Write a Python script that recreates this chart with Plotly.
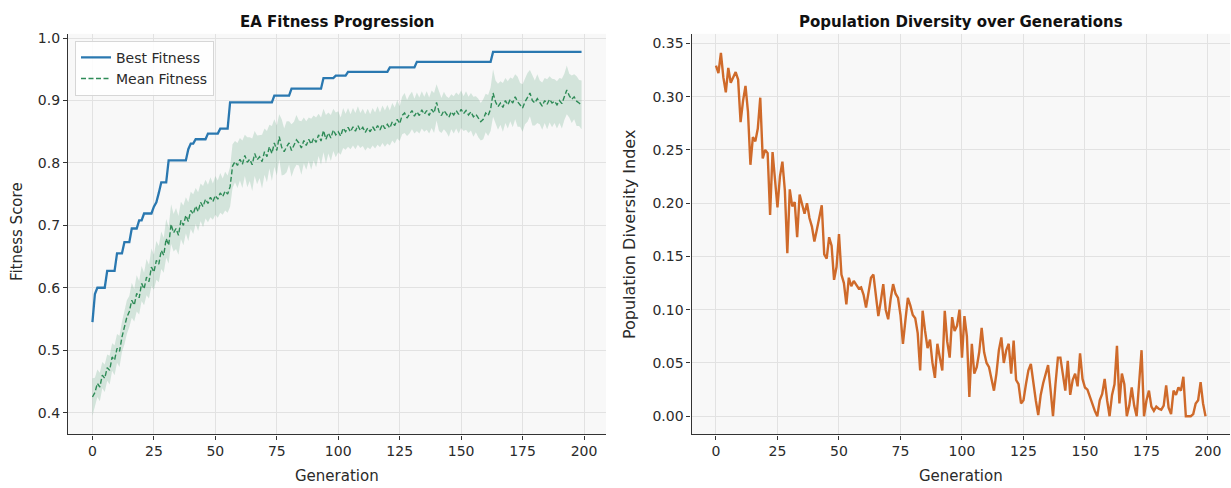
import plotly.graph_objects as go

W, H = 1231, 488

generations = list(range(200))

best_fitness = [
    0.545, 0.590, 0.600, 0.600, 0.600, 0.600, 0.627, 0.627, 0.627, 0.627,
    0.655, 0.655, 0.655, 0.673, 0.673, 0.673, 0.695, 0.695, 0.695, 0.708,
    0.708, 0.719, 0.719, 0.719, 0.719, 0.730, 0.737, 0.752, 0.769, 0.769,
    0.769, 0.804, 0.804, 0.804, 0.804, 0.804, 0.804, 0.804, 0.804, 0.822,
    0.831, 0.831, 0.838, 0.838, 0.838, 0.838, 0.838, 0.847, 0.847, 0.847,
    0.847, 0.847, 0.855, 0.855, 0.855, 0.855, 0.897, 0.897, 0.897, 0.897,
    0.897, 0.897, 0.897, 0.897, 0.897, 0.897, 0.897, 0.897, 0.897, 0.897,
    0.897, 0.897, 0.897, 0.897, 0.908, 0.908, 0.908, 0.908, 0.908, 0.908,
    0.908, 0.919, 0.919, 0.919, 0.919, 0.919, 0.919, 0.919, 0.919, 0.919,
    0.919, 0.919, 0.919, 0.919, 0.936, 0.936, 0.936, 0.936, 0.936, 0.940,
    0.940, 0.940, 0.940, 0.940, 0.946, 0.946, 0.946, 0.946, 0.946, 0.946,
    0.946, 0.946, 0.946, 0.946, 0.946, 0.946, 0.946, 0.946, 0.946, 0.946,
    0.946, 0.953, 0.953, 0.953, 0.953, 0.953, 0.953, 0.953, 0.953, 0.953,
    0.953, 0.953, 0.962, 0.962, 0.962, 0.962, 0.962, 0.962, 0.962, 0.962,
    0.962, 0.962, 0.962, 0.962, 0.962, 0.962, 0.962, 0.962, 0.962, 0.962,
    0.962, 0.962, 0.962, 0.962, 0.962, 0.962, 0.962, 0.962, 0.962, 0.962,
    0.962, 0.962, 0.962, 0.978, 0.978, 0.978, 0.978, 0.978, 0.978, 0.978,
    0.978, 0.978, 0.978, 0.978, 0.978, 0.978, 0.978, 0.978, 0.978, 0.978,
    0.978, 0.978, 0.978, 0.978, 0.978, 0.978, 0.978, 0.978, 0.978, 0.978,
    0.978, 0.978, 0.978, 0.978, 0.978, 0.978, 0.978, 0.978, 0.978, 0.978,
]

mean_fitness = [
    0.425, 0.432, 0.447, 0.441, 0.460, 0.455, 0.472, 0.468, 0.489, 0.484,
    0.503, 0.498, 0.521, 0.535, 0.553, 0.562, 0.580, 0.572, 0.591, 0.584,
    0.607, 0.598, 0.617, 0.610, 0.633, 0.625, 0.644, 0.638, 0.660, 0.652,
    0.679, 0.668, 0.702, 0.688, 0.695, 0.684, 0.708, 0.700, 0.716, 0.706,
    0.724, 0.718, 0.731, 0.722, 0.737, 0.730, 0.742, 0.735, 0.745, 0.738,
    0.748, 0.742, 0.752, 0.746, 0.755, 0.750, 0.762, 0.795, 0.802, 0.796,
    0.806, 0.798, 0.812, 0.801, 0.806, 0.797, 0.815, 0.805, 0.810, 0.802,
    0.818, 0.810, 0.826, 0.815, 0.832, 0.820, 0.842, 0.825, 0.818, 0.826,
    0.832, 0.820, 0.828, 0.837, 0.832, 0.824, 0.836, 0.828, 0.838, 0.830,
    0.840, 0.833, 0.845, 0.835, 0.852, 0.838, 0.848, 0.840, 0.853, 0.845,
    0.850, 0.843, 0.856, 0.850, 0.857, 0.850, 0.858, 0.851, 0.860, 0.852,
    0.857, 0.849, 0.856, 0.850, 0.858, 0.852, 0.860, 0.853, 0.862, 0.855,
    0.862, 0.856, 0.866, 0.860, 0.870, 0.863, 0.876, 0.880, 0.872, 0.878,
    0.884, 0.875, 0.882, 0.876, 0.885, 0.878, 0.884, 0.876, 0.886, 0.880,
    0.897, 0.882, 0.876, 0.884, 0.878, 0.873, 0.882, 0.877, 0.884, 0.878,
    0.886, 0.879, 0.884, 0.877, 0.882, 0.874, 0.878, 0.872, 0.866, 0.870,
    0.880, 0.876, 0.886, 0.912, 0.898, 0.890, 0.896, 0.889, 0.900, 0.893,
    0.902, 0.896, 0.906, 0.898, 0.893, 0.888, 0.898, 0.905, 0.912, 0.900,
    0.896, 0.903, 0.897, 0.891, 0.900, 0.894, 0.902, 0.896, 0.899, 0.893,
    0.900, 0.895, 0.906, 0.917, 0.908, 0.902, 0.906, 0.899, 0.896, 0.893,
]

fitness_std = [
    0.030, 0.024, 0.022, 0.023, 0.021, 0.022, 0.021, 0.023, 0.022, 0.024,
    0.023, 0.025, 0.024, 0.026, 0.027, 0.025, 0.028, 0.026, 0.029, 0.027,
    0.028, 0.026, 0.029, 0.027, 0.030, 0.028, 0.031, 0.029, 0.030, 0.028,
    0.031, 0.029, 0.032, 0.030, 0.033, 0.031, 0.030, 0.032, 0.029, 0.031,
    0.030, 0.032, 0.029, 0.031, 0.030, 0.033, 0.031, 0.030, 0.032, 0.029,
    0.031, 0.030, 0.032, 0.029, 0.031, 0.030, 0.032, 0.035, 0.033, 0.036,
    0.034, 0.038, 0.033, 0.040, 0.035, 0.042, 0.036, 0.039, 0.034, 0.043,
    0.037, 0.041, 0.035, 0.044, 0.038, 0.040, 0.036, 0.045, 0.037, 0.041,
    0.035, 0.042, 0.038, 0.040, 0.036, 0.043, 0.037, 0.039, 0.035, 0.041,
    0.036, 0.040, 0.034, 0.038, 0.035, 0.039, 0.033, 0.037, 0.034, 0.036,
    0.033, 0.030, 0.032, 0.029, 0.031, 0.028, 0.030, 0.029, 0.031, 0.028,
    0.030, 0.029, 0.031, 0.028, 0.030, 0.029, 0.031, 0.028, 0.030, 0.029,
    0.031, 0.028, 0.030, 0.029, 0.031, 0.028, 0.030, 0.032, 0.029, 0.031,
    0.030, 0.028, 0.031, 0.029, 0.030, 0.028, 0.031, 0.029, 0.030, 0.032,
    0.029, 0.031, 0.028, 0.030, 0.029, 0.031, 0.028, 0.030, 0.029, 0.031,
    0.030, 0.028, 0.031, 0.029, 0.030, 0.032, 0.029, 0.031, 0.030, 0.032,
    0.031, 0.033, 0.035, 0.038, 0.034, 0.037, 0.035, 0.039, 0.036, 0.038,
    0.035, 0.039, 0.036, 0.040, 0.035, 0.038, 0.036, 0.039, 0.037, 0.040,
    0.036, 0.039, 0.035, 0.038, 0.036, 0.040, 0.037, 0.039, 0.035, 0.038,
    0.036, 0.040, 0.037, 0.039, 0.035, 0.038, 0.036, 0.040, 0.037, 0.039,
]

diversity = [
    0.329, 0.322, 0.341, 0.318, 0.304, 0.327, 0.313, 0.318, 0.323, 0.316,
    0.276, 0.296, 0.310, 0.286, 0.236, 0.262, 0.258, 0.270, 0.299, 0.242,
    0.250, 0.247, 0.189, 0.248, 0.224, 0.196, 0.225, 0.239, 0.212, 0.153,
    0.213, 0.197, 0.201, 0.168, 0.208, 0.200, 0.190, 0.200, 0.186, 0.178,
    0.164, 0.175, 0.186, 0.198, 0.152, 0.148, 0.168, 0.160, 0.128, 0.140,
    0.171, 0.133, 0.125, 0.105, 0.130, 0.122, 0.127, 0.124, 0.120, 0.121,
    0.114, 0.102, 0.118, 0.130, 0.133, 0.112, 0.094, 0.108, 0.124, 0.100,
    0.091, 0.110, 0.124, 0.115, 0.111, 0.095, 0.068, 0.090, 0.111, 0.104,
    0.095, 0.092, 0.078, 0.043, 0.099, 0.080, 0.064, 0.072, 0.050, 0.036,
    0.068, 0.055, 0.043, 0.099, 0.070, 0.055, 0.093, 0.080, 0.085, 0.100,
    0.055, 0.094, 0.075, 0.018, 0.068, 0.040, 0.046, 0.060, 0.083, 0.060,
    0.050, 0.046, 0.035, 0.024, 0.040, 0.062, 0.074, 0.050, 0.062, 0.068,
    0.040, 0.071, 0.034, 0.030, 0.012, 0.015, 0.030, 0.043, 0.049, 0.030,
    0.015, 0.001, 0.020, 0.031, 0.040, 0.048, 0.025, 0.000, 0.030, 0.055,
    0.055, 0.040, 0.024, 0.052, 0.020, 0.034, 0.040, 0.028, 0.059, 0.035,
    0.027, 0.025, 0.018, 0.010, 0.005, 0.000, 0.015, 0.021, 0.035, 0.015,
    0.000, 0.020, 0.030, 0.066, 0.012, 0.040, 0.030, 0.000, 0.010, 0.027,
    0.010, 0.000, 0.030, 0.062, 0.000, 0.015, 0.024, 0.009, 0.005, 0.009,
    0.007, 0.006, 0.010, 0.029, 0.008, 0.002, 0.024, 0.020, 0.027, 0.024,
    0.037, 0.000, 0.000, 0.000, 0.002, 0.012, 0.015, 0.032, 0.012, 0.000,
]

x_ticks = [0, 25, 50, 75, 100, 125, 150, 175, 200]
fit_ticks = [0.4, 0.5, 0.6, 0.7, 0.8, 0.9, 1.0]
fit_tick_labels = ["0.4", "0.5", "0.6", "0.7", "0.8", "0.9", "1.0"]
div_ticks = [0.0, 0.05, 0.10, 0.15, 0.20, 0.25, 0.30, 0.35]
div_tick_labels = ["0.00", "0.05", "0.10", "0.15", "0.20", "0.25", "0.30", "0.35"]

titles = ["EA Fitness Progression", "Population Diversity over Generations"]
x_label = "Generation"
y_labels = ["Fitness Score", "Population Diversity Index"]

BLUE = "#2a78b0"
GREEN = "#2e8b57"
ORANGE = "#cf6a2a"
FONT = "DejaVu Sans"
TXT = "#2a2a2a"

upper = [m + s for m, s in zip(mean_fitness, fitness_std)]
lower = [m - s for m, s in zip(mean_fitness, fitness_std)]

fig = go.Figure()

fig.add_trace(go.Scatter(x=generations, y=best_fitness, mode="lines", name="Best Fitness",
                         line=dict(color=BLUE, width=2.3), xaxis="x", yaxis="y"))
fig.add_trace(go.Scatter(x=generations, y=lower, mode="lines", line=dict(width=0),
                         showlegend=False, hoverinfo="skip", xaxis="x", yaxis="y"))
fig.add_trace(go.Scatter(x=generations, y=upper, mode="lines", line=dict(width=0),
                         fill="tonexty", fillcolor="rgba(46,139,87,0.18)",
                         showlegend=False, hoverinfo="skip", xaxis="x", yaxis="y"))
fig.add_trace(go.Scatter(x=generations, y=mean_fitness, mode="lines", name="Mean Fitness",
                         line=dict(color=GREEN, width=1.4, dash="5px,2.5px"), xaxis="x", yaxis="y"))
fig.add_trace(go.Scatter(x=generations, y=diversity, mode="lines", name="Diversity",
                         line=dict(color=ORANGE, width=2.4), showlegend=False,
                         xaxis="x2", yaxis="y2"))

# pixel geometry -> paper coords
def px(x):
    return x / W

def py(y):
    return (H - y) / H

plot_top, plot_bot = 30, 434
left_dom = [px(68), px(606)]
right_dom = [px(691.5), px(1230)]
y_dom = [py(plot_bot), py(plot_top)]

axis_common = dict(
    showline=True, linecolor="#333333", linewidth=1.2, mirror=False,
    ticks="outside", ticklen=4, tickwidth=1, tickcolor="#333333",
    showgrid=True, gridcolor="#e2e2e2", gridwidth=1, zeroline=False,
    tickfont=dict(family=FONT, size=14, color=TXT),
)

fig.update_layout(
    width=W, height=H, autosize=False,
    margin=dict(l=0, r=0, t=0, b=0),
    paper_bgcolor="white", plot_bgcolor="#f8f8f8",
    font=dict(family=FONT, color=TXT),
    xaxis=dict(domain=left_dom, anchor="y", range=[-9.95, 208.95],
               tickvals=x_ticks, ticktext=[str(v) for v in x_ticks], **axis_common),
    yaxis=dict(domain=y_dom, anchor="x", range=[0.365, 1.007],
               tickvals=fit_ticks, ticktext=fit_tick_labels, **axis_common),
    xaxis2=dict(domain=right_dom, anchor="y2", range=[-9.95, 208.95],
                tickvals=x_ticks, ticktext=[str(v) for v in x_ticks], **axis_common),
    yaxis2=dict(domain=y_dom, anchor="x2", range=[-0.0171, 0.359],
                tickvals=div_ticks, ticktext=div_tick_labels, **axis_common),
    legend=dict(x=px(75), y=py(37), xanchor="left", yanchor="top",
                bgcolor="rgba(255,255,255,0.85)", bordercolor="#d6d6d6", borderwidth=1,
                font=dict(family=FONT, size=14, color=TXT), traceorder="normal",
                tracegroupgap=0),
    showlegend=True,
)

ann = []
for cx, t in zip((337, 961), titles):
    ann.append(dict(text="<b>%s</b>" % t, x=px(cx), y=py(18), xref="paper", yref="paper",
                    showarrow=False, xanchor="center", yanchor="middle",
                    font=dict(family=FONT, size=15, color="#111111")))
for cx in (337, 961):
    ann.append(dict(text=x_label, x=px(cx), y=py(476), xref="paper", yref="paper",
                    showarrow=False, xanchor="center", yanchor="middle",
                    font=dict(family=FONT, size=15, color=TXT)))
ann.append(dict(text=y_labels[0], x=px(17), y=py(230), xref="paper", yref="paper",
                showarrow=False, xanchor="center", yanchor="middle", textangle=-90,
                font=dict(family=FONT, size=15, color=TXT)))
ann.append(dict(text=y_labels[1], x=px(629), y=py(233), xref="paper", yref="paper",
                showarrow=False, xanchor="center", yanchor="middle", textangle=-90,
                font=dict(family=FONT, size=16, color=TXT)))
fig.update_layout(annotations=ann)

fig.write_html("out.html")
